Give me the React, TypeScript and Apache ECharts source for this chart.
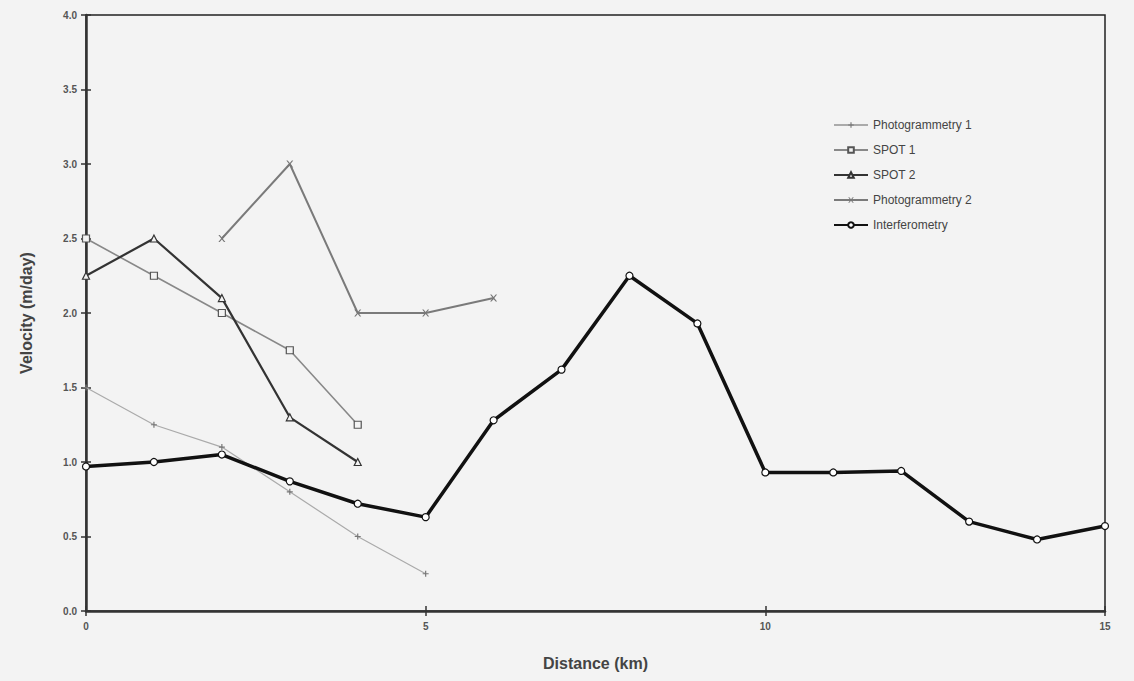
import React, { useEffect, useRef } from "react";
import * as echarts from "echarts";

const distance = [0, 1, 2, 3, 4, 5, 6, 7, 8, 9, 10, 11, 12, 13, 14, 15];
const interferometry = [0.97, 1.0, 1.05, 0.87, 0.72, 0.63, 1.28, 1.62, 2.25, 1.93, 0.93, 0.93, 0.94, 0.6, 0.48, 0.57];
const photo1X = [0, 1, 2, 3, 4, 5];
const photo1 = [1.5, 1.25, 1.1, 0.8, 0.5, 0.25];
const spot1X = [0, 1, 2, 3, 4];
const spot1 = [2.5, 2.25, 2.0, 1.75, 1.25];
const spot2X = [0, 1, 2, 3, 4];
const spot2 = [2.25, 2.5, 2.1, 1.3, 1.0];
const photo2X = [2, 3, 4, 5, 6];
const photo2 = [2.5, 3.0, 2.0, 2.0, 2.1];

const pairs = (xs: number[], ys: number[]) => xs.map((x, i) => [x, ys[i]]);

const plusSym = "path://M4,0L6,0L6,4L10,4L10,6L6,6L6,10L4,10L4,6L0,6L0,4L4,4Z";
const xSym = "path://M0,0L2,0L5,3.5L8,0L10,0L6,5L10,10L8,10L5,6.5L2,10L0,10L4,5Z";

export default function App() {
  const ref = useRef<HTMLDivElement>(null);
  useEffect(() => {
    const chart = echarts.init(ref.current!, null, { renderer: "svg" });
    const font = "Liberation Sans, Arial, sans-serif";
    const tickLabel = { color: "#555", fontSize: 10, fontWeight: "bold" as const, fontFamily: font };
    chart.setOption({
      animation: false,
      backgroundColor: "#f3f3f3",
      grid: { left: 86, right: 29, top: 15, bottom: 70, show: true, borderColor: "#222", borderWidth: 1.5, backgroundColor: "transparent" },
      legend: {
        orient: "vertical",
        left: 828,
        top: 114,
        itemGap: 13,
        itemWidth: 34,
        itemHeight: 7,
        textStyle: { color: "#444", fontSize: 12, fontFamily: font },
        data: ["Photogrammetry 1", "SPOT 1", "SPOT 2", "Photogrammetry 2", "Interferometry"],
      },
      xAxis: [
        {
          type: "value", min: 0, max: 15, interval: 5,
          name: "Distance (km)", nameLocation: "middle", nameGap: 44,
          nameTextStyle: { color: "#444", fontSize: 16, fontWeight: "bold", fontFamily: font },
          axisLine: { lineStyle: { color: "#333", width: 2.5 } },
          axisTick: { length: 5, lineStyle: { color: "#333", width: 1.5 } },
          axisLabel: { ...tickLabel, margin: 10 },
          splitLine: { show: false },
        },
        {
          type: "value", min: 0, max: 15, interval: 5, position: "bottom",
          axisLine: { show: false },
          axisTick: { show: true, inside: true, length: 5, lineStyle: { color: "#333", width: 1.5 } },
          axisLabel: { show: false },
          splitLine: { show: false },
        },
      ],
      yAxis: [
        {
          type: "value", min: 0, max: 4, interval: 0.5,
          name: "Velocity (m/day)", nameLocation: "middle", nameGap: 52, nameRotate: 90,
          nameTextStyle: { color: "#444", fontSize: 16, fontWeight: "bold", fontFamily: font },
          axisLine: { show: true, lineStyle: { color: "#333", width: 2.5 } },
          axisTick: { show: true, length: 5, lineStyle: { color: "#333", width: 1.5 } },
          axisLabel: { ...tickLabel, margin: 9, formatter: (v: number) => v.toFixed(1) },
          splitLine: { show: false },
        },
        {
          type: "value", min: 0, max: 4, interval: 0.5, position: "left",
          axisLine: { show: false },
          axisTick: { show: true, inside: true, length: 5, lineStyle: { color: "#333", width: 1.5 } },
          axisLabel: { show: false },
          splitLine: { show: false },
        },
      ],
      series: [
        {
          name: "Photogrammetry 1", type: "line", data: pairs(photo1X, photo1),
          symbol: plusSym, symbolSize: 6,
          lineStyle: { color: "#aaa", width: 1.2 }, itemStyle: { color: "#777" },
        },
        {
          name: "SPOT 1", type: "line", data: pairs(spot1X, spot1),
          symbol: "rect", symbolSize: 7,
          lineStyle: { color: "#888", width: 1.6 }, itemStyle: { color: "#f3f3f3", borderColor: "#555", borderWidth: 1.2 },
        },
        {
          name: "SPOT 2", type: "line", data: pairs(spot2X, spot2),
          symbol: "triangle", symbolSize: 7,
          lineStyle: { color: "#333", width: 2.2 }, itemStyle: { color: "#f3f3f3", borderColor: "#333", borderWidth: 1.2 },
        },
        {
          name: "Photogrammetry 2", type: "line", data: pairs(photo2X, photo2),
          symbol: xSym, symbolSize: 7,
          lineStyle: { color: "#7a7a7a", width: 2 }, itemStyle: { color: "#777" },
        },
        {
          name: "Interferometry", type: "line", data: pairs(distance, interferometry),
          symbol: "circle", symbolSize: 7,
          lineStyle: { color: "#111", width: 3.5 }, itemStyle: { color: "#fff", borderColor: "#111", borderWidth: 1.2 },
        },
      ],
    });
    return () => chart.dispose();
  }, []);
  return <div ref={ref} style={{ position: "absolute", left: 0, top: 0, width: 1134, height: 681 }} />;
}
